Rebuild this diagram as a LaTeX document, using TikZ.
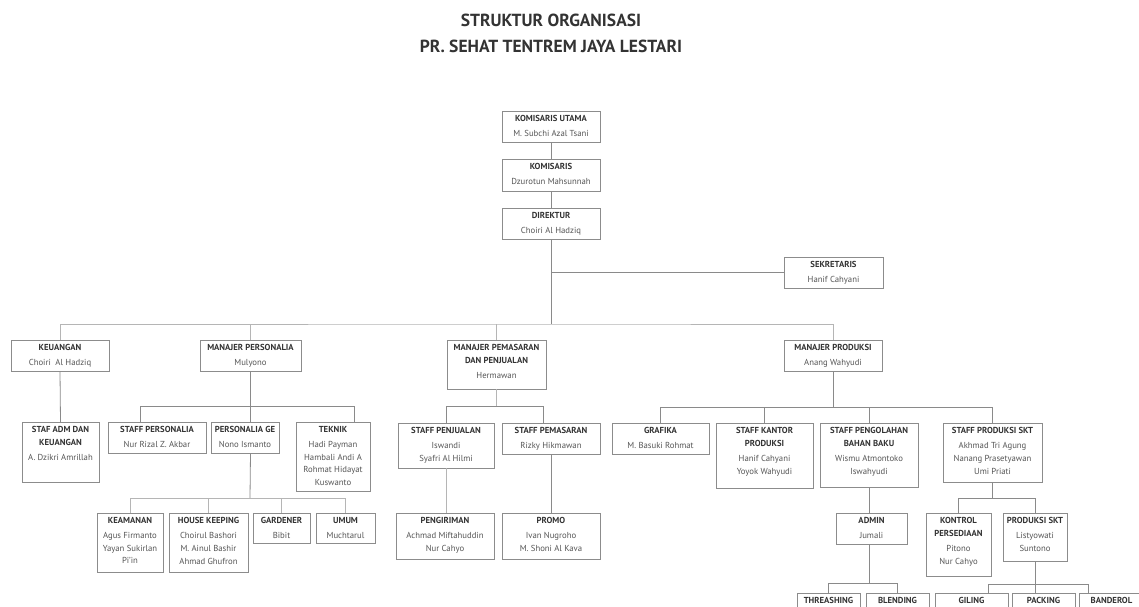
\documentclass[tikz,border=0pt]{standalone}
\usepackage{fontspec}
\setmainfont{PT Sans}
\definecolor{ttc}{HTML}{333333}
\definecolor{nmc}{HTML}{555555}
\definecolor{lnc}{HTML}{8A8A8A}
\definecolor{lnl}{HTML}{B5B5B5}
\definecolor{bxc}{HTML}{8C8C8C}
\tikzset{
  bx/.style={draw=bxc, line width=0.8pt, fill=white, inner sep=0pt, outer sep=0pt},
  bt/.style={anchor=north, inner sep=0pt, text=ttc},
  conn/.style={draw=lnc, line width=0.8pt},
  connl/.style={draw=lnl, line width=0.8pt},
  ttl/.style={text=ttc, font=\fontsize{17.5}{26}\selectfont\bfseries}
}
\newcommand\obox[7]{%
  \node[bx, minimum width=#4pt, minimum height=#5pt] (#1) at ({#2+#4/2},{#3+#5/2}) {};
  \node[bt] (#1-t) at ([yshift=-4.5pt]#1.north)
    {\parbox[t]{#4pt}{\fontsize{8.7}{12.6}\selectfont\centering
      \bfseries #6\\[2.3pt]\mdseries\color{nmc}#7\par}};
}
\begin{document}
\begin{tikzpicture}[x=1pt,y=-1pt]
\useasboundingbox (0,0) rectangle (1139,606);
\clip (0,0) rectangle (1139,606);
\fill[white] (0,0) rectangle (1139,606);

\node[ttl] (title) at (551,20) {STRUKTUR ORGANISASI};
\node[ttl] (subtitle) at (551,46) {PR. SEHAT TENTREM JAYA LESTARI};

\coordinate (bus) at (551,324);

% top
\obox{komut}{502}{111}{98}{31}{KOMISARIS UTAMA}{M. Subchi Azal Tsani}
\obox{kom}{502}{159}{98}{32}{KOMISARIS}{Dzurotun Mahsunnah}
\obox{dir}{502}{208}{98}{31}{DIREKTUR}{Choiri Al Hadziq}
\obox{sek}{784}{257}{99}{31}{SEKRETARIS}{Hanif Cahyani}

% level 2
\obox{keu}{11}{340}{98}{31}{KEUANGAN}{Choiri \ Al Hadziq}
\obox{mp}{200}{340}{101}{31}{MANAJER PERSONALIA}{Mulyono}
\obox{mpp}{447}{340}{99}{49}{MANAJER PEMASARAN\\DAN PENJUALAN}{Hermawan}
\obox{mprod}{784}{340}{98}{31}{MANAJER PRODUKSI}{Anang Wahyudi}

% level 3
\obox{staffadm}{22}{422}{77}{60}{STAF ADM DAN\\KEUANGAN}{A. Dzikri Amrillah}
\obox{staffpers}{108}{422}{98}{31}{STAFF PERSONALIA}{Nur Rizal Z. Akbar}
\obox{persge}{211}{422}{68}{31}{PERSONALIA GE}{Nono Ismanto}
\obox{teknik}{296}{422}{74}{69}{TEKNIK}{Hadi Payman\\Hambali Andi A\\Rohmat Hidayat\\Kuswanto}
\obox{staffpenj}{398}{423}{96}{45}{STAFF PENJUALAN}{Iswandi\\Syafri Al Hilmi}
\obox{staffpem}{502}{423}{98}{31}{STAFF PEMASARAN}{Rizky Hikmawan}
\obox{grafika}{612}{423}{97}{31}{GRAFIKA}{M. Basuki Rohmat}
\obox{kantor}{716}{423}{97}{65}{STAFF KANTOR\\PRODUKSI}{Hanif Cahyani\\Yoyok Wahyudi}
\obox{olah}{820}{423}{98}{64}{STAFF PENGOLAHAN\\BAHAN BAKU}{Wismu Atmontoko\\Iswahyudi}
\obox{skt}{943}{423}{99}{59}{STAFF PRODUKSI SKT}{Akhmad Tri Agung\\Nanang Prasetyawan\\Umi Priati}

% level 4
\obox{keamanan}{97}{513}{66}{59}{KEAMANAN}{Agus Firmanto\\Yayan Sukirlan\\Pi'in}
\obox{house}{169}{513}{79}{59}{HOUSE KEEPING}{Choirul Bashori\\M. Ainul Bashir\\Ahmad Ghufron}
\obox{garden}{253}{513}{57}{30}{GARDENER}{Bibit}
\obox{umum}{316}{513}{59}{30}{UMUM}{Muchtarul}
\obox{pengiriman}{396}{513}{98}{46}{PENGIRIMAN}{Achmad Miftahuddin\\Nur Cahyo}
\obox{promo}{502}{513}{98}{46}{PROMO}{Ivan Nugroho\\M. Shoni Al Kava}
\obox{admin}{836}{513}{71}{31}{ADMIN}{Jumali}
\obox{kontrol}{926}{513}{65}{63}{KONTROL\\PERSEDIAAN}{Pitono\\Nur Cahyo}
\obox{prodskt}{1003}{513}{64}{48}{PRODUKSI SKT}{Listyowati\\Suntono}

% level 5 (cut off at the lower edge)
\obox{threashing}{797}{593}{63}{30}{THREASHING}{\mbox{}}
\obox{blending}{866}{593}{63}{30}{BLENDING}{\mbox{}}
\obox{giling}{935}{593}{73}{30}{GILING}{\mbox{}}
\obox{packing}{1012}{593}{63}{30}{PACKING}{\mbox{}}
\obox{banderol}{1079}{593}{65}{30}{BANDEROL}{\mbox{}}

% connectors
\draw[conn] (komut.south) -- (kom.north);
\draw[conn] (kom.south) -- (dir.north);
\draw[conn] (dir.south) -- (bus);
\draw[conn] (dir.south |- sek.west) -- (sek.west);
\draw[connl] (keu.north) |- (bus) -| (mprod.north);
\draw[connl] (mp.north) -- (mp.north |- bus);
\draw[connl] (mpp.north) -- (mpp.north |- bus);

\draw[conn] (keu.south) -- (staffadm.north);

\path (mp.south) ++(0,35) coordinate (pb);
\draw[conn] (mp.south) -- (mp.south |- persge.north);
\draw[conn] ([xshift=-17pt]staffpers.north) |- (pb) -| ([xshift=21pt]teknik.north);
\coordinate (pb2) at (250,498);
\draw[conn] (mp.south |- persge.south) -- (pb2);
\draw[connl] (keamanan.north) |- (pb2) -| (umum.north);
\draw[connl] (house.north) -- (house.north |- pb2);
\draw[connl] (garden.north) -- (garden.north |- pb2);

\path (mpp.south) ++(0,17) coordinate (mb);
\draw[connl] (mpp.south) -- (mb);
\draw[conn] (staffpenj.north) |- (mb) -| ([xshift=-8pt]staffpem.north);
\draw[connl] (staffpenj.south) -- (staffpenj.south |- pengiriman.north);
\draw[conn] (staffpem.south) -- (promo.north);

\path (mprod.south) ++(0,36) coordinate (rb);
\draw[conn] (mprod.south) -- (rb);
\draw[conn] (grafika.north) |- (rb) -| (skt.north);
\draw[conn] (kantor.north) -- (kantor.north |- rb);
\draw[conn] (olah.north) -- (olah.north |- rb);
\draw[conn] (olah.south) -- (olah.south |- admin.north);
\path (olah.south |- admin.south) ++(0,39) coordinate (ab);
\draw[conn] (olah.south |- admin.south) -- (ab);
\draw[conn] (threashing.north) |- (ab) -| (blending.north);

\path (skt.south) ++(0,16) coordinate (sb);
\draw[conn] (skt.south) -- (sb);
\draw[conn] (kontrol.north) |- (sb) -| (prodskt.north);
\path (prodskt.south) ++(0,23) coordinate (gb);
\draw[conn] (prodskt.south) -- (prodskt.south |- packing.north);
\draw[conn] ([xshift=17pt]giling.north) |- (gb) -| ([xshift=-23pt]banderol.north);
\end{tikzpicture}
\end{document}
